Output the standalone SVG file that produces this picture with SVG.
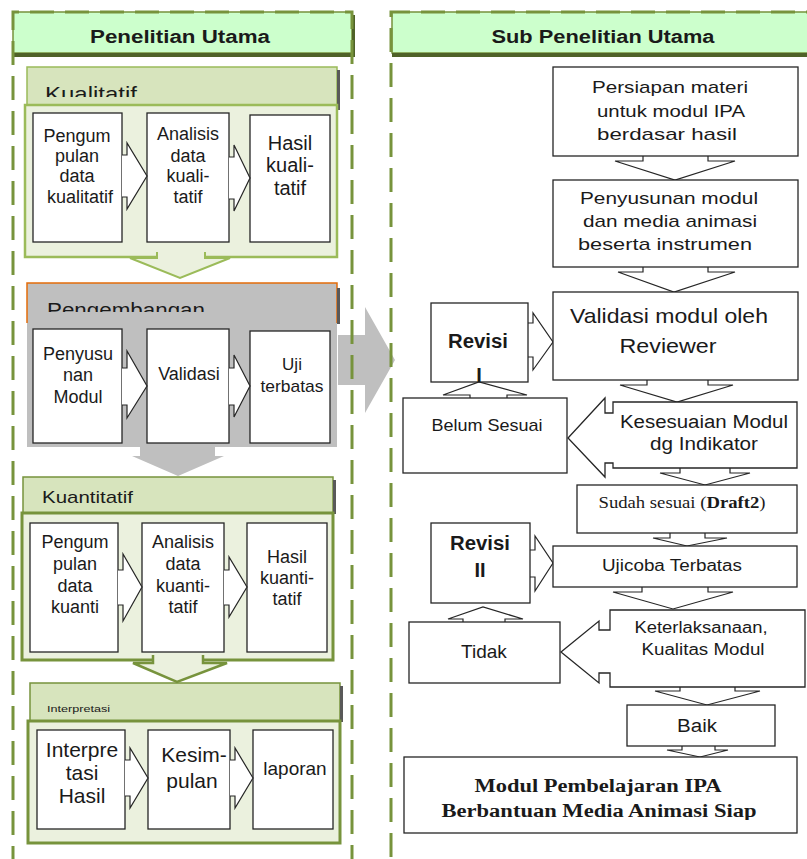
<svg xmlns="http://www.w3.org/2000/svg" width="807" height="859" viewBox="0 0 807 859">
<defs>
<style>
.t{font-family:"Liberation Sans",Arial,sans-serif;fill:#1a1a1a;text-anchor:middle}
.l{text-anchor:start}
.b{font-weight:bold}
.s{font-family:"Liberation Serif","Times New Roman",serif}
.box{fill:#fff;stroke:#262626;stroke-width:1.3}
.chev{fill:#fff;stroke:#262626;stroke-width:1.2;stroke-linejoin:miter}
.hdr{fill:#ccffcc;stroke:#77933c;stroke-width:1.5}
.shd{fill:#4f6228}
.dash{fill:none;stroke:#77933c;stroke-width:3;stroke-dasharray:24 11}
.sh2{fill:#595959}
</style>
<clipPath id="cK"><rect x="20" y="60" width="320" height="37"/></clipPath>
<clipPath id="cP"><rect x="20" y="285" width="320" height="27"/></clipPath>
<clipPath id="cF"><rect x="404" y="757" width="393" height="63"/></clipPath>
</defs>
<rect width="807" height="859" fill="#fff"/>

<g id="big-arrow">
<polygon points="338,335 365,335 365,307 395,360 365,413 365,385 338,385" fill="#bfbfbf"/>
</g>

<g id="header-left">
<rect class="hdr" x="13" y="12" width="339" height="41"/>
<rect class="shd" x="13" y="53" width="342" height="4"/>
<rect class="shd" x="352" y="15" width="3" height="40"/>
<text class="t b" x="180" y="43" font-size="17.5" textLength="180" lengthAdjust="spacingAndGlyphs">Penelitian Utama</text>
</g>
<g id="header-right">
<rect class="hdr" x="392" y="12" width="430" height="41"/>
<rect class="shd" x="392" y="53" width="430" height="4"/>
<text class="t b" x="603" y="43" font-size="17.5" textLength="223" lengthAdjust="spacingAndGlyphs">Sub Penelitian Utama</text>
</g>

<g id="kualitatif">
<rect x="27" y="67" width="310" height="45" fill="#d7e4bd" stroke="#9bbb59" stroke-width="1.5"/>
<rect class="sh2" x="337" y="70" width="3" height="40"/>
<text class="t l" x="45" y="101" font-size="21" textLength="92" lengthAdjust="spacingAndGlyphs" clip-path="url(#cK)" fill="#262626">Kualitatif</text>
<rect x="25" y="105" width="312" height="152" fill="#ebf1de" stroke="#9bbb59" stroke-width="2.5"/>
<rect class="box" x="33" y="113" width="89" height="129"/>
<rect class="box" x="147" y="113" width="82" height="129"/>
<rect class="box" x="250" y="115" width="80" height="127"/>
<path class="chev" d="M122,155 H127 V143 L147,176 L127,209 V197 H122"/>
<path class="chev" d="M229,157 H234 V145 L250,178 L234,211 V199 H229"/>
<g class="t" font-size="18">
<text x="77" y="142">Pengum</text>
<text x="77" y="162">pulan</text>
<text x="77" y="182">data</text>
<text x="80" y="203">kualitatif</text>
<text x="188" y="140">Analisis</text>
<text x="188" y="162">data</text>
<text x="188" y="182">kuali-</text>
<text x="188" y="203">tatif</text>
</g>
<g class="t" font-size="20">
<text x="290" y="150">Hasil</text>
<text x="290" y="172">kuali-</text>
<text x="290" y="195">tatif</text>
</g>
</g>

<g id="pengembangan">
<rect x="27" y="283" width="310" height="164" fill="#bfbfbf"/>
<path d="M27,323 V283 H337 V323" fill="none" stroke="#e46c0a" stroke-width="1.5"/>
<rect class="sh2" x="337" y="288" width="3" height="36"/>
<text class="t l" x="47" y="317" font-size="21" textLength="158" lengthAdjust="spacingAndGlyphs" clip-path="url(#cP)" fill="#333">Pengembangan</text>
<rect class="box" x="33" y="329" width="89" height="114"/>
<rect class="box" x="147" y="329" width="82" height="114"/>
<rect class="box" x="250" y="331" width="80" height="112"/>
<path class="chev" d="M122,368 H127 V351 L147,386 L127,418 V405 H122"/>
<path class="chev" d="M229,368 H234 V355 L250,386 L234,417 V405 H229"/>
<g class="t" font-size="18">
<text x="78" y="360">Penyusu</text>
<text x="78" y="381">nan</text>
<text x="78" y="403">Modul</text>
<text x="189" y="380">Validasi</text>
</g>
<g class="t" font-size="17">
<text x="292" y="370">Uji</text>
<text x="292" y="392" textLength="63" lengthAdjust="spacingAndGlyphs">terbatas</text>
</g>
</g>

<g id="kuantitatif">
<rect x="23" y="477" width="310" height="38" fill="#d7e4bd" stroke="#77933c" stroke-width="1.5"/>
<rect class="sh2" x="333" y="480" width="3" height="34"/>
<text class="t l" x="42" y="503" font-size="17" textLength="91" lengthAdjust="spacingAndGlyphs">Kuantitatif</text>
<rect x="22" y="513" width="311" height="147" fill="#ebf1de" stroke="#77933c" stroke-width="3"/>
<rect class="box" x="30" y="523" width="88" height="129"/>
<rect class="box" x="142" y="523" width="82" height="129"/>
<rect class="box" x="247" y="523" width="80" height="129"/>
<path class="chev" d="M118,570 H123 V554 L142,587 L123,621 V605 H118"/>
<path class="chev" d="M224,570 H229 V557 L247,587 L229,617 V605 H224"/>
<g class="t" font-size="18">
<text x="75" y="548">Pengum</text>
<text x="75" y="570">pulan</text>
<text x="75" y="592">data</text>
<text x="75" y="613">kuanti</text>
<text x="183" y="548">Analisis</text>
<text x="183" y="570">data</text>
<text x="183" y="592">kuanti-</text>
<text x="183" y="613">tatif</text>
<text x="287" y="563">Hasil</text>
<text x="287" y="584">kuanti-</text>
<text x="287" y="605">tatif</text>
</g>
</g>

<g id="interpretasi">
<rect x="30" y="683" width="310" height="39" fill="#d7e4bd" stroke="#77933c" stroke-width="1.5"/>
<rect class="sh2" x="340" y="686" width="3" height="36"/>
<text class="t l" x="47" y="712" font-size="9" textLength="63" lengthAdjust="spacingAndGlyphs" fill="#333">Interpretasi</text>
<rect x="28" y="721" width="312" height="122" fill="#ebf1de" stroke="#77933c" stroke-width="3"/>
<rect class="box" x="37" y="730" width="88" height="99"/>
<rect class="box" x="148" y="730" width="82" height="99"/>
<rect class="box" x="253" y="730" width="80" height="99"/>
<path class="chev" d="M125,760 H130 V748 L148,778 L130,808 V796 H125"/>
<path class="chev" d="M230,760 H235 V748 L253,778 L235,808 V796 H230"/>
<g class="t" font-size="21">
<text x="82" y="757">Interpre</text>
<text x="82" y="780">tasi</text>
<text x="82" y="803">Hasil</text>
<text x="194" y="762">Kesim-</text>
<text x="192" y="788">pulan</text>
</g>
<text class="t" x="295" y="775" font-size="19">laporan</text>
</g>

<g id="connectors">
<path d="M157,252 V258 H130 L180,278 L230,258 H205 V252" fill="#ebf1de" stroke="#9bbb59" stroke-width="2"/>
<polygon points="140,447 215,447 215,456 224,456 178,476 132,456 140,456" fill="#bfbfbf"/>
<path d="M153,655 V663 H133 L177,682 L227,663 H203 V655" fill="#ebf1de" stroke="#77933c" stroke-width="2.5"/>
<path class="chev" d="M643,156 V161 H615 L675,180 L735,161 H708 V156"/>
<path class="chev" d="M643,267 V272 H618 L674,292 L735,272 H708 V267"/>
<path class="chev" d="M528,323 H533 V313 L553,342 L533,370 V357 H528"/>
<path class="chev" d="M470,398 V395 H443 L479,382 L527,395 H507 V398"/>
<path class="chev" d="M647,380 V385 H620 L677,402 L733,385 H708 V380"/>
<path class="chev" d="M680,468 V473 H660 L705,485 L750,473 H730 V468"/>
<path class="chev" d="M670,533 V538 H653 L687,546 L727,538 H705 V533"/>
<path class="chev" d="M530,550 H535 V536 L553,563 L535,591 V577 H530"/>
<path class="chev" d="M642,587 V592 H613 L673,609 L733,592 H708 V587"/>
<path class="chev" d="M463,622 V619 H448 L483,607 L523,619 H505 V622"/>
<path class="chev" d="M680,687 V691 H655 L707,705 L760,691 H735 V687"/>
<path class="chev" d="M682,746 V750 H667 L700,757 L728,750 H715 V746"/>
</g>

<g id="persiapan">
<rect class="box" x="553" y="67" width="245" height="89"/>
<g class="t" font-size="17">
<text x="670" y="93" textLength="156" lengthAdjust="spacingAndGlyphs">Persiapan materi</text>
<text x="671" y="117" textLength="148" lengthAdjust="spacingAndGlyphs">untuk modul IPA</text>
<text x="667" y="140" textLength="140" lengthAdjust="spacingAndGlyphs">berdasar hasil</text>
</g>
</g>
<g id="penyusunan">
<rect class="box" x="553" y="180" width="245" height="87"/>
<g class="t" font-size="17">
<text x="669" y="204" textLength="178" lengthAdjust="spacingAndGlyphs">Penyusunan modul</text>
<text x="670" y="227" textLength="174" lengthAdjust="spacingAndGlyphs">dan media animasi</text>
<text x="665" y="250" textLength="174" lengthAdjust="spacingAndGlyphs">beserta instrumen</text>
</g>
</g>
<g id="validasi">
<rect class="box" x="553" y="292" width="245" height="88"/>
<text class="t" x="669" y="323" font-size="21" textLength="198" lengthAdjust="spacingAndGlyphs">Validasi modul oleh</text>
<text class="t" x="668" y="353" font-size="21" textLength="97" lengthAdjust="spacingAndGlyphs">Reviewer</text>
</g>
<g id="revisi1">
<rect class="box" x="431" y="303" width="97" height="79"/>
<text class="t b" x="478" y="348" font-size="20" textLength="60" lengthAdjust="spacingAndGlyphs">Revisi</text>
<text class="t b" x="479" y="382" font-size="20">I</text>
</g>
<g id="belum-sesuai">
<rect class="box" x="403" y="398" width="164" height="75"/>
<text class="t" x="487" y="431" font-size="17" textLength="111" lengthAdjust="spacingAndGlyphs">Belum Sesuai</text>
</g>
<g id="kesesuaian">
<path class="box" d="M613,402 H797 V468 H613 V463 H605 V477 L568,438 L605,398 V413 H613 Z"/>
<text class="t" x="704" y="428" font-size="18" textLength="168" lengthAdjust="spacingAndGlyphs">Kesesuaian Modul</text>
<text class="t" x="704" y="450" font-size="18" textLength="108" lengthAdjust="spacingAndGlyphs">dg Indikator</text>
</g>
<g id="sudah-sesuai">
<rect class="box" x="577" y="485" width="220" height="48"/>
<text class="t s" x="682" y="508" font-size="16" textLength="167" lengthAdjust="spacingAndGlyphs">Sudah sesuai (<tspan font-weight="bold">Draft2</tspan>)</text>
</g>
<g id="revisi2">
<rect class="box" x="431" y="523" width="99" height="80"/>
<text class="t b" x="480" y="550" font-size="20" textLength="60" lengthAdjust="spacingAndGlyphs">Revisi</text>
<text class="t b" x="480" y="577" font-size="20">II</text>
</g>
<g id="ujicoba">
<rect class="box" x="553" y="546" width="244" height="41"/>
<text class="t" x="672" y="571" font-size="16" textLength="140" lengthAdjust="spacingAndGlyphs">Ujicoba Terbatas</text>
</g>
<g id="keterlaksanaan">
<path class="box" d="M610,610 H805 V687 H610 V673 H599 V683 L561,652 L599,621 V630 H610 Z"/>
<text class="t" x="701" y="633" font-size="16" textLength="133" lengthAdjust="spacingAndGlyphs">Keterlaksanaan,</text>
<text class="t" x="703" y="655" font-size="16" textLength="123" lengthAdjust="spacingAndGlyphs">Kualitas Modul</text>
</g>
<g id="tidak">
<rect class="box" x="409" y="622" width="151" height="61"/>
<text class="t" x="484" y="658" font-size="19">Tidak</text>
</g>
<g id="baik">
<rect class="box" x="627" y="705" width="148" height="41"/>
<text class="t" x="697" y="732" font-size="18" textLength="40" lengthAdjust="spacingAndGlyphs">Baik</text>
</g>
<g id="modul-final">
<rect class="box" x="404" y="757" width="393" height="76"/>
<text class="t s b" x="598" y="792" font-size="18" textLength="247" lengthAdjust="spacingAndGlyphs">Modul Pembelajaran IPA</text>
<text class="t s b" x="599" y="817" font-size="18" textLength="315" lengthAdjust="spacingAndGlyphs" clip-path="url(#cF)">Berbantuan Media Animasi Siap</text>
</g>

<g id="frames">
<path class="dash" d="M13,870 V12 H352 V870"/>
<path class="dash" d="M830,12 H391 V870"/>
</g>
</svg>
